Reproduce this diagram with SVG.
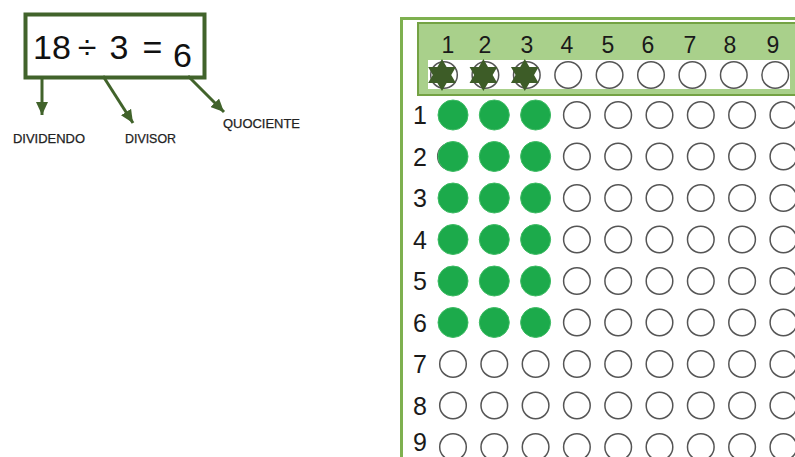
<svg xmlns="http://www.w3.org/2000/svg" width="795" height="457" viewBox="0 0 795 457">
  <style>
    .eq { font-family: "Liberation Sans", Arial, sans-serif; font-size: 34px; fill: #111; text-anchor: middle; }
    .lbl { font-family: "Liberation Sans", Arial, sans-serif; font-size: 13px; fill: #222; stroke: #222; stroke-width: 0.25; }
    .conn { stroke: #41632b; stroke-width: 3; fill: none; }
    .num { font-family: "Liberation Sans", Arial, sans-serif; font-size: 23px; fill: #1a1a1a; text-anchor: middle; }
    .row { font-family: "Liberation Sans", Arial, sans-serif; font-size: 25px; fill: #1a1a1a; text-anchor: middle; }
    .open { fill: #fff; stroke: #555; stroke-width: 1.5; }
    .full { fill: #1caa4b; stroke: #3dbb63; stroke-width: 1; }
    .star { fill: #3d5c27; }
  </style>
  <defs>
    <marker id="ah" markerUnits="userSpaceOnUse" markerWidth="13" markerHeight="12" refX="13" refY="6" orient="auto">
      <path d="M0,0 L13,6 L0,12 z" fill="#41632b"/>
    </marker>
    <polygon id="hex" points="0,-16 4.62,-8 13.86,-8 9.24,0 13.86,8 4.62,8 0,16 -4.62,8 -13.86,8 -9.24,0 -13.86,-8 -4.62,-8"/>
    <circle id="oc" r="13.3"/>
    <circle id="fc" r="15"/>
  </defs>
  <rect width="795" height="457" fill="#fff"/>

  <!-- Equation node -->
  <g id="equation">
    <rect x="25.5" y="14.5" width="179" height="63" fill="#fff" stroke="#41632b" stroke-width="4"/>
    <text class="eq" x="52" y="59">18</text>
    <text class="eq" x="87" y="59">÷</text>
    <text class="eq" x="119" y="59">3</text>
    <text class="eq" x="152.5" y="59">=</text>
    <text class="eq" x="182.5" y="67">6</text>
  </g>

  <!-- Connectors -->
  <g id="connectors">
    <line class="conn" x1="42" y1="77" x2="42" y2="115" marker-end="url(#ah)"/>
    <line class="conn" x1="103" y1="76" x2="133" y2="123" marker-end="url(#ah)"/>
    <line class="conn" x1="188" y1="76" x2="224" y2="112" marker-end="url(#ah)"/>
  </g>

  <!-- Label nodes -->
  <g id="label-dividendo"><text class="lbl" x="13" y="143" textLength="72" lengthAdjust="spacingAndGlyphs">DIVIDENDO</text></g>
  <g id="label-divisor"><text class="lbl" x="125" y="143" textLength="51" lengthAdjust="spacingAndGlyphs">DIVISOR</text></g>
  <g id="label-quociente"><text class="lbl" x="223" y="128" textLength="77" lengthAdjust="spacingAndGlyphs">QUOCIENTE</text></g>

  <!-- Grid board -->
  <g id="board">
    <path d="M401.5,460 V18.5 H800" fill="none" stroke="#7eb04f" stroke-width="3"/>
    <rect x="418" y="23" width="385" height="72" fill="#a9d08b" stroke="#74a244" stroke-width="2"/>
    <rect x="428" y="60" width="362" height="29" fill="#fff"/>
  </g>

  <g id="header-numbers">
    <text class="num" x="448" y="53">1</text>
    <text class="num" x="485" y="53">2</text>
    <text class="num" x="527" y="53">3</text>
    <text class="num" x="567" y="53">4</text>
    <text class="num" x="608" y="53">5</text>
    <text class="num" x="648" y="53">6</text>
    <text class="num" x="690" y="53">7</text>
    <text class="num" x="730" y="53">8</text>
    <text class="num" x="773" y="53">9</text>
  </g>

  <g id="header-circles">
    <use href="#oc" class="open" x="444" y="75"/>
    <use href="#oc" class="open" x="485.4" y="75"/>
    <use href="#oc" class="open" x="526.8" y="75"/>
    <use href="#oc" class="open" x="568.2" y="75"/>
    <use href="#oc" class="open" x="609.6" y="75"/>
    <use href="#oc" class="open" x="651" y="75"/>
    <use href="#oc" class="open" x="692.4" y="75"/>
    <use href="#oc" class="open" x="733.8" y="75"/>
    <use href="#oc" class="open" x="775.2" y="75"/>
    <use href="#hex" class="star" x="442" y="75"/>
    <use href="#hex" class="star" x="483.4" y="75"/>
    <use href="#hex" class="star" x="524.8" y="75"/>
  </g>

  <g id="row-labels">
    <text class="row" x="420" y="124">1</text>
    <text class="row" x="420" y="165.5">2</text>
    <text class="row" x="420" y="207">3</text>
    <text class="row" x="420" y="248.5">4</text>
    <text class="row" x="420" y="290">5</text>
    <text class="row" x="420" y="331.5">6</text>
    <text class="row" x="420" y="373">7</text>
    <text class="row" x="420" y="414.5">8</text>
    <text class="row" x="420" y="451">9</text>
  </g>

  <g id="grid-filled">
    <use href="#oc" class="open" x="451" y="156.5"/>
    <use href="#fc" class="full" x="453" y="115"/><use href="#fc" class="full" x="494.3" y="115"/><use href="#fc" class="full" x="535.6" y="115"/>
    <use href="#fc" class="full" x="453" y="156.5"/><use href="#fc" class="full" x="494.3" y="156.5"/><use href="#fc" class="full" x="535.6" y="156.5"/>
    <use href="#fc" class="full" x="453" y="198"/><use href="#fc" class="full" x="494.3" y="198"/><use href="#fc" class="full" x="535.6" y="198"/>
    <use href="#fc" class="full" x="453" y="239.5"/><use href="#fc" class="full" x="494.3" y="239.5"/><use href="#fc" class="full" x="535.6" y="239.5"/>
    <use href="#fc" class="full" x="453" y="281"/><use href="#fc" class="full" x="494.3" y="281"/><use href="#fc" class="full" x="535.6" y="281"/>
    <use href="#fc" class="full" x="453" y="322.5"/><use href="#fc" class="full" x="494.3" y="322.5"/><use href="#fc" class="full" x="535.6" y="322.5"/>
  </g>

  <g id="grid-open">
    <use href="#oc" class="open" x="576.9" y="115"/><use href="#oc" class="open" x="618.2" y="115"/><use href="#oc" class="open" x="659.5" y="115"/><use href="#oc" class="open" x="700.8" y="115"/><use href="#oc" class="open" x="742.1" y="115"/><use href="#oc" class="open" x="783.4" y="115"/>
    <use href="#oc" class="open" x="576.9" y="156.5"/><use href="#oc" class="open" x="618.2" y="156.5"/><use href="#oc" class="open" x="659.5" y="156.5"/><use href="#oc" class="open" x="700.8" y="156.5"/><use href="#oc" class="open" x="742.1" y="156.5"/><use href="#oc" class="open" x="783.4" y="156.5"/>
    <use href="#oc" class="open" x="576.9" y="198"/><use href="#oc" class="open" x="618.2" y="198"/><use href="#oc" class="open" x="659.5" y="198"/><use href="#oc" class="open" x="700.8" y="198"/><use href="#oc" class="open" x="742.1" y="198"/><use href="#oc" class="open" x="783.4" y="198"/>
    <use href="#oc" class="open" x="576.9" y="239.5"/><use href="#oc" class="open" x="618.2" y="239.5"/><use href="#oc" class="open" x="659.5" y="239.5"/><use href="#oc" class="open" x="700.8" y="239.5"/><use href="#oc" class="open" x="742.1" y="239.5"/><use href="#oc" class="open" x="783.4" y="239.5"/>
    <use href="#oc" class="open" x="576.9" y="281"/><use href="#oc" class="open" x="618.2" y="281"/><use href="#oc" class="open" x="659.5" y="281"/><use href="#oc" class="open" x="700.8" y="281"/><use href="#oc" class="open" x="742.1" y="281"/><use href="#oc" class="open" x="783.4" y="281"/>
    <use href="#oc" class="open" x="576.9" y="322.5"/><use href="#oc" class="open" x="618.2" y="322.5"/><use href="#oc" class="open" x="659.5" y="322.5"/><use href="#oc" class="open" x="700.8" y="322.5"/><use href="#oc" class="open" x="742.1" y="322.5"/><use href="#oc" class="open" x="783.4" y="322.5"/>
    <use href="#oc" class="open" x="453" y="364"/><use href="#oc" class="open" x="494.3" y="364"/><use href="#oc" class="open" x="535.6" y="364"/><use href="#oc" class="open" x="576.9" y="364"/><use href="#oc" class="open" x="618.2" y="364"/><use href="#oc" class="open" x="659.5" y="364"/><use href="#oc" class="open" x="700.8" y="364"/><use href="#oc" class="open" x="742.1" y="364"/><use href="#oc" class="open" x="783.4" y="364"/>
    <use href="#oc" class="open" x="453" y="405.5"/><use href="#oc" class="open" x="494.3" y="405.5"/><use href="#oc" class="open" x="535.6" y="405.5"/><use href="#oc" class="open" x="576.9" y="405.5"/><use href="#oc" class="open" x="618.2" y="405.5"/><use href="#oc" class="open" x="659.5" y="405.5"/><use href="#oc" class="open" x="700.8" y="405.5"/><use href="#oc" class="open" x="742.1" y="405.5"/><use href="#oc" class="open" x="783.4" y="405.5"/>
    <use href="#oc" class="open" x="453" y="447"/><use href="#oc" class="open" x="494.3" y="447"/><use href="#oc" class="open" x="535.6" y="447"/><use href="#oc" class="open" x="576.9" y="447"/><use href="#oc" class="open" x="618.2" y="447"/><use href="#oc" class="open" x="659.5" y="447"/><use href="#oc" class="open" x="700.8" y="447"/><use href="#oc" class="open" x="742.1" y="447"/><use href="#oc" class="open" x="783.4" y="447"/>
  </g>
</svg>
